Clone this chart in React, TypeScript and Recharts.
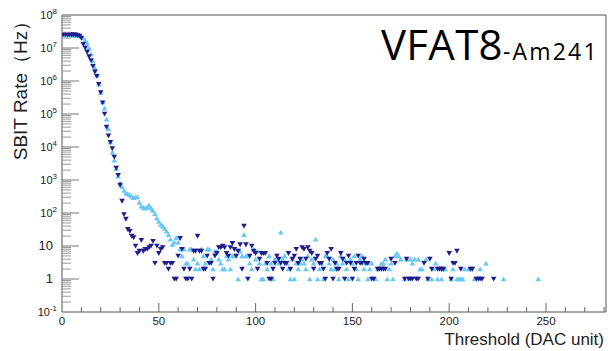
import React from 'react';
import { ScatterChart, Scatter, XAxis, YAxis, ReferenceArea } from 'recharts';

// SBIT rate vs threshold, one value per DAC unit starting at 0 (null = no entry)
const darkRate: (number | null)[] = [
  2.6e7, 2.6e7, 2.6e7, 2.5e7, 2.6e7, 2.5e7, 2.5e7, 2.5e7, 2.4e7, 2.3e7,
  2.0e7, 1.3e7, 1.0e7, 7.5e6, 5.5e6, 4.2e6, 2.8e6, 1.9e6, 1.4e6, 8e5,
  4.5e5, 2.2e5, 1.0e5, 4e4, 2.2e4, 1.4e4, 9e3, 5e3, 2.3e3, 1.4e3,
  700, 230, 90, 65, 32, 28, 20, 18, 10, 6,
  7, 15, 7, 8, 8, 9, 10, 14, 3, 10,
  6, 8, 9, 3, 3, 2, 3, 3, 1, 1,
  5, 17, 8, 2, 1, 1, 2, 1, 7, 7,
  20, 7, 7, 2, 2, 5, 3, 3, 1, 5,
  6, 9, 9, 10, 9, 6, 5, 9, 12, 8,
  5, 7, 11, 2, 40, 11, 1, 5, 10, 7,
  6, 2, 4, 6, 6, 6, 3, 1, 1, 2,
  3, 5, 4, 3, 2, 3, 3, 6, 2, 4,
  5, 8, 3, 4, 9, 8, 4, 9, 7, 6,
  2, 4, 5, 3, 3, 2, 1, 6, 4, 8,
  1, 3, 2, 2, 6, 4, 1, 3, 5, 3,
  1, 2, 3, 5, 3, 3, 4, 3, 3, null,
  1, 1, null, 2, 2, 2, 2, 2, null, null,
  4, null, 3, null, null, null, null, 1, 4, 1,
  1, 1, null, 1, 1, null, null, 3, null, 1,
  4, 2, null, null, 2, 2, 2, 2, null, null,
  6, 1, 3, 3, 7, null, 2, null, null, null,
  null, 2, 2, null, 1, 1, 1, 1, null, null,
  null, null, null, 1,
];

const lightRate: (number | null)[] = [
  2.5e7, 2.5e7, 2.5e7, 2.5e7, 2.5e7, 2.5e7, 2.5e7, 2.4e7, 2.4e7, 2.4e7,
  2.3e7, 2.0e7, 1.7e7, 1.4e7, 1.0e7, 6.5e6, 4.0e6, 2.5e6, 1.5e6, 8e5,
  4.5e5, 2.3e5, 1.5e5, 7e4, 3.5e4, 1.4e4, 7e3, 4e3, 2.2e3, 1.3e3,
  800, 630, 480, 400, 380, 350, 320, 290, 300, 310,
  210, 160, 145, 140, 150, 175, 140, 120, 95, 70,
  55, 45, 40, 34, 28, 22, 16, 11, 13, 18,
  13, 8, 5, 8, 3, 3, 8, 8, 4, 2,
  3, 2, 8, 5, 3, 8, 8, 4, 2, 7,
  7, 4, 3, 2, 2, 5, 4, 2, 5, 5,
  8, 1, 7, 5, 22, 5, 5, 3, 2, 8,
  4, 7, 3, 1, 1, 3, 2, 5, 3, 1,
  4, 4, 3, 26, 4, 5, 3, 2, 1, 4,
  1, 3, 2, 3, 4, 3, 2, 5, 1, 4,
  3, 16, 1, 2, 3, 1, 5, 5, 3, 2,
  4, 2, 3, 1, 5, 3, 4, 2, 1, 4,
  3, 5, 2, 1, 4, 5, 2, 3, 1, 2,
  3, null, 1, 2, null, 3, 3, 4, 1, 2,
  3, 1, 5, 6, 5, 4, null, 1, 4, null,
  4, 3, 4, null, 4, 2, 2, null, 4, 1,
  null, 1, 2, 3, 1, null, 1, 2, 2, null,
  null, 1, 2, null, 1, 1, 1, 1, 2, null,
  2, 2, null, 1, null, null, 2, null, null, 3,
  null, null, null, null, null, null, null, null, 1, null,
  null, null, null, null, null, null, null, null, null, null,
  null, null, null, null, null, null, 1,
];

const xTicks = [0, 10, 20, 30, 40, 50, 60, 70, 80, 90, 100, 110, 120, 130, 140, 150, 160, 170, 180, 190, 200, 210, 220, 230, 240, 250, 260, 270, 280];
const decades = [-1, 0, 1, 2, 3, 4, 5, 6, 7, 8];

const toPoints = (arr: (number | null)[]) =>
  arr.map((v, i) => ({ dac: i, rate: v })).filter((p) => p.rate !== null);

const darkData = toPoints(darkRate);
const lightData = toPoints(lightRate);

const W = 608;
const H = 351;
const PLOT_LEFT = 62;
const PLOT_TOP = 15;
const PLOT_BOTTOM = 312;
const X_MAX = 281;

const yTicks: number[] = [];
decades.forEach((d) => {
  const base = Math.pow(10, d);
  if (d === 8) { yTicks.push(base); return; }
  for (let m = 1; m <= 9; m++) yTicks.push(m * base);
});

const font = '"Liberation Sans", Arial, Helvetica, sans-serif';
const DARK = '#1d1d8f';
const LIGHT = '#66c8f7';

const DownTri = (props: any) => {
  const { cx, cy } = props;
  if (cx == null || cy == null) return null;
  return <polygon points={`${cx - 2.8},${cy - 2.3} ${cx + 2.8},${cy - 2.3} ${cx},${cy + 2.6}`} fill={DARK} />;
};

const UpTri = (props: any) => {
  const { cx, cy } = props;
  if (cx == null || cy == null) return null;
  return <polygon points={`${cx - 2.8},${cy + 2.3} ${cx + 2.8},${cy + 2.3} ${cx},${cy - 2.6}`} fill={LIGHT} />;
};

const YTick = (props: any) => {
  const { y, payload } = props;
  const v = payload.value;
  const e = Math.round(Math.log10(v));
  const major = Math.abs(v - Math.pow(10, e)) < 1e-9 * Math.pow(10, e);
  let label: React.ReactNode = null;
  if (major) {
    if (e === 0 || e === 1) {
      label = (
        <text x={53} y={y + 4} textAnchor="end" fontSize={13} fill="#222" fontFamily={font}>
          {e === 0 ? '1' : '10'}
        </text>
      );
    } else {
      label = (
        <text x={57} y={y + 4} textAnchor="end" fontSize={11} fill="#222" fontFamily={font}>
          10<tspan dy={-5} fontSize={8}>{String(e)}</tspan>
        </text>
      );
    }
  }
  const inPlot = y > PLOT_TOP + 0.5 && y < PLOT_BOTTOM - 0.5;
  return (
    <g>
      {inPlot && (
        <line x1={PLOT_LEFT} x2={PLOT_LEFT + (major ? 17 : 9)} y1={y} y2={y} stroke={major ? '#777' : '#999'} strokeWidth={1} />
      )}
      {label}
    </g>
  );
};

const XTick = (props: any) => {
  const { x, payload } = props;
  const v = payload.value;
  const major = v % 50 === 0;
  return (
    <g>
      {v > 0 && (
        <line x1={x} x2={x} y1={PLOT_BOTTOM} y2={PLOT_BOTTOM - (major ? 9 : 5)} stroke="#666" strokeWidth={1} />
      )}
      {major && (
        <text x={x} y={PLOT_BOTTOM + 13} textAnchor="middle" fontSize={11.5} fill="#222" fontFamily={font}>
          {v}
        </text>
      )}
    </g>
  );
};

export default function App() {
  return (
    <div style={{ position: 'absolute', left: 0, top: 0, width: W, height: H, background: '#fff' }}>
      <ScatterChart width={W} height={H} margin={{ top: PLOT_TOP, right: 2, bottom: 0, left: 0 }}>
        <XAxis
          type="number"
          dataKey="dac"
          domain={[0, X_MAX]}
          ticks={xTicks}
          interval={0}
          height={H - PLOT_BOTTOM}
          axisLine={false}
          tickLine={false}
          tick={<XTick />}
          allowDataOverflow
        />
        <YAxis
          type="number"
          dataKey="rate"
          scale="log"
          domain={[0.1, 1e8]}
          ticks={yTicks}
          interval={0}
          width={PLOT_LEFT}
          axisLine={false}
          tickLine={false}
          tick={<YTick />}
          allowDataOverflow
        />
        <ReferenceArea x1={0} x2={X_MAX} y1={0.1} y2={1e8} fill="none" stroke="#555" strokeWidth={1} ifOverflow="visible" />
        <Scatter data={lightData} shape={<UpTri />} isAnimationActive={false} />
        <Scatter data={darkData} shape={<DownTri />} isAnimationActive={false} />
      </ScatterChart>
      <div
        style={{
          position: 'absolute',
          left: 21,
          top: 86,
          transform: 'translate(-50%, -50%) rotate(-90deg)',
          whiteSpace: 'nowrap',
          fontFamily: font,
          fontSize: 19,
          color: '#222',
        }}
      >
        SBIT Rate（Hz）
      </div>
      <div
        style={{
          position: 'absolute',
          right: 4,
          top: 331,
          whiteSpace: 'nowrap',
          fontFamily: font,
          fontSize: 17,
          lineHeight: 1,
          color: '#222',
        }}
      >
        Threshold (DAC unit)
      </div>
      <div
        style={{
          position: 'absolute',
          left: 381,
          top: 23,
          whiteSpace: 'nowrap',
          fontFamily: '"Open Sans", "Noto Sans", sans-serif',
          color: '#000',
          lineHeight: 1,
        }}
      >
        <span style={{ fontSize: 42, letterSpacing: 0.3 }}>VFAT8</span>
        <span style={{ fontSize: 23, letterSpacing: 2.2 }}>-Am241</span>
      </div>
    </div>
  );
}
